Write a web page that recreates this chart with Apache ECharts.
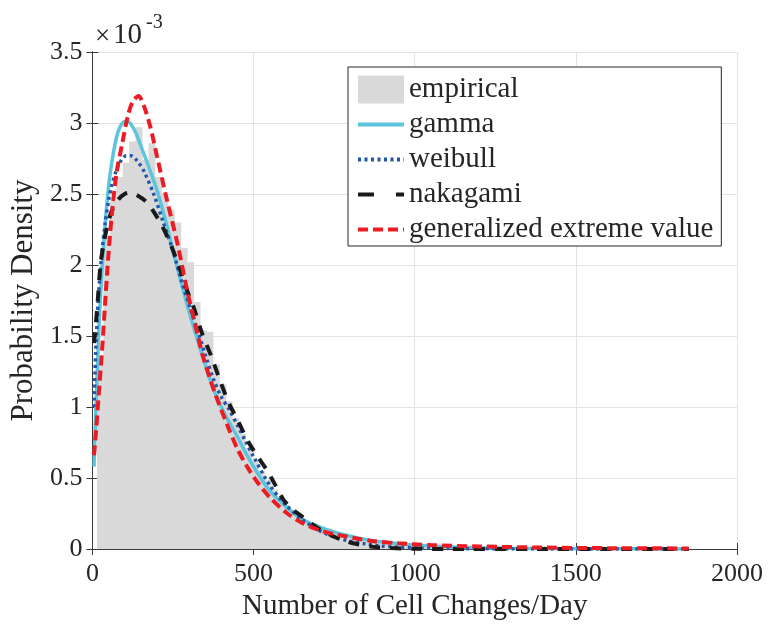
<!DOCTYPE html>
<html>
<head>
<meta charset="utf-8">
<script src="https://cdn.jsdelivr.net/npm/echarts@6/dist/echarts.min.js"></script>
<style>html,body{margin:0;padding:0;background:#fff}#c{width:769px;height:628px}</style>
</head>
<body>
<div id="c"></div>
<script>
// values in units of 1e-3
var binStart = 14;
var binWidth = 20;
var histHeights = [
  1.30, 2.20, 2.45, 2.62, 2.72, 2.87, 2.97, 2.74, 2.86, 2.62,
  2.50, 2.39, 2.30, 2.12, 2.02, 1.74, 1.54, 1.53, 1.30, 1.16,
  1.04, 0.92, 0.81, 0.71, 0.62, 0.55, 0.49, 0.42, 0.36, 0.31,
  0.27, 0.23, 0.20, 0.175, 0.15, 0.13, 0.115, 0.10, 0.088, 0.078,
  0.068, 0.060, 0.053, 0.047, 0.042, 0.037, 0.033, 0.030, 0.027, 0.024,
  0.022, 0.020, 0.018, 0.017, 0.016, 0.015, 0.014, 0.013, 0.012, 0.011,
  0.010, 0.010, 0.009, 0.009, 0.008, 0.008, 0.007, 0.007, 0.007, 0.006,
  0.006, 0.006, 0.005, 0.005, 0.005, 0.005, 0.004, 0.004, 0.004, 0.004,
  0.004, 0.003, 0.003, 0.003, 0.003, 0.003, 0.003, 0.002, 0.002, 0.002,
  0.002, 0.002
];
var gammaPts = [
  [5,0.58],[10,0.95],[15,1.25],[20,1.55],[30,1.98],[40,2.30],[50,2.55],[60,2.72],
  [70,2.85],[80,2.94],[90,2.99],[100,3.01],[110,3.01],[120,2.99],[135,2.93],[150,2.84],
  [175,2.69],[200,2.53],[225,2.33],[250,2.10],[275,1.88],[300,1.67],[325,1.48],[350,1.30],
  [375,1.13],[400,1.00],[425,0.89],[450,0.79],[475,0.68],[500,0.58],[525,0.49],[550,0.41],
  [600,0.30],[650,0.21],[700,0.16],[750,0.12],[800,0.09],[850,0.066],[900,0.05],[1000,0.028],
  [1100,0.016],[1200,0.009],[1300,0.005],[1500,0.002],[1700,0.001],[1850,0.0005]
];
var weibullPts = [
  [5,1.00],[10,1.38],[15,1.62],[20,1.82],[30,2.10],[40,2.30],[50,2.45],[60,2.56],
  [75,2.67],[90,2.74],[105,2.77],[120,2.77],[140,2.73],[160,2.66],[190,2.50],[220,2.30],
  [250,2.10],[275,1.90],[300,1.72],[325,1.55],[350,1.37],[375,1.20],[400,1.07],[425,0.98],
  [450,0.87],[475,0.76],[500,0.65],[550,0.45],[600,0.31],[650,0.21],[700,0.135],[750,0.085],
  [800,0.055],[850,0.035],[900,0.02],[1000,0.008],[1100,0.003],[1300,0.0005],[1850,0.0]
];
var nakagamiPts = [
  [5,1.45],[15,1.70],[25,2.00],[35,2.15],[46,2.27],[60,2.38],[80,2.46],[100,2.50],
  [118,2.51],[140,2.49],[165,2.45],[186,2.39],[215,2.28],[242,2.15],[270,1.98],[294,1.82],
  [313,1.71],[340,1.52],[370,1.35],[397,1.18],[425,1.02],[450,0.91],[480,0.77],[510,0.66],
  [543,0.55],[570,0.44],[592,0.35],[620,0.28],[650,0.23],[685,0.17],[720,0.12],[778,0.06],
  [820,0.035],[871,0.015],[920,0.007],[1000,0.002],[1100,0.0],[1850,0.0]
];
var gevPts = [
  [5,0.66],[12,0.85],[20,1.10],[30,1.40],[40,1.75],[50,2.08],[60,2.35],[75,2.65],
  [93,2.86],[110,3.05],[125,3.15],[143,3.19],[160,3.12],[180,2.97],[201,2.76],[230,2.47],
  [264,2.15],[294,1.82],[320,1.57],[344,1.35],[380,1.10],[419,0.87],[449,0.71],[480,0.58],
  [512,0.47],[552,0.36],[605,0.25],[654,0.18],[707,0.13],[760,0.10],[862,0.058],[950,0.04],
  [1050,0.028],[1200,0.018],[1400,0.01],[1600,0.006],[1850,0.004]
];
var xTicks = {min: 0, max: 2000, interval: 500};
var yTicks = {min: 0, max: 3.5, interval: 0.5};

var histData = histHeights.map(function (h, i) {
  return [binStart + i * binWidth, binStart + (i + 1) * binWidth, h];
});

var FONT = 'Liberation Serif';
var TXT = '#262626';
var AX = '#3a3a3a';

var chart = echarts.init(document.getElementById('c'), null, {renderer: 'canvas'});

function lineSeries(name, data, color, width, type, z) {
  return {
    name: name, type: 'line', data: data, symbol: 'none', showSymbol: false,
    smooth: 0.3, z: z,
    lineStyle: {color: color, width: width, type: type, cap: 'butt'},
    itemStyle: {color: color},
    emphasis: {disabled: true}, animation: false
  };
}
var hidden = {opacity: 0, borderWidth: 0};

chart.setOption({
  animation: false,
  grid: {left: 92, right: 32, top: 52, bottom: 79, containLabel: false},
  xAxis: [{
    type: 'value', min: xTicks.min, max: xTicks.max, interval: xTicks.interval,
    position: 'bottom',
    name: 'Number of Cell Changes/Day', nameLocation: 'middle', nameGap: 43,
    nameTextStyle: {fontFamily: FONT, fontSize: 29, color: TXT},
    axisLine: {show: true, lineStyle: {color: AX, width: 1}},
    axisTick: {show: true, inside: true, length: 6, lineStyle: {color: AX}},
    axisLabel: {fontFamily: FONT, fontSize: 26, color: TXT, margin: 12,
      formatter: function (v) { return String(v); }},
    splitLine: {show: true, lineStyle: {color: '#e3e3e3', width: 1}}
  }, {
    type: 'value', min: xTicks.min, max: xTicks.max, interval: xTicks.interval,
    position: 'top',
    axisLine: {show: true, lineStyle: {color: AX, width: 1}},
    axisTick: {show: true, inside: true, length: 6, lineStyle: {color: AX}},
    axisLabel: {show: false}, splitLine: {show: false}
  }],
  yAxis: [{
    type: 'value', min: yTicks.min, max: yTicks.max, interval: yTicks.interval,
    position: 'left',
    name: 'Probability Density', nameLocation: 'middle', nameGap: 40,
    nameTextStyle: {fontFamily: FONT, fontSize: 31, color: TXT},
    axisLine: {show: true, lineStyle: {color: AX, width: 1}},
    axisTick: {show: true, inside: true, length: 6, lineStyle: {color: AX}},
    axisLabel: {fontFamily: FONT, fontSize: 26, color: TXT, margin: 10},
    splitLine: {show: true, lineStyle: {color: '#e3e3e3', width: 1}}
  }, {
    type: 'value', min: yTicks.min, max: yTicks.max, interval: yTicks.interval,
    position: 'right',
    axisLine: {show: true, lineStyle: {color: AX, width: 1}},
    axisTick: {show: true, inside: true, length: 6, lineStyle: {color: AX}},
    axisLabel: {show: false}, splitLine: {show: false}
  }],
  legend: {
    left: 348, top: 67, orient: 'vertical',
    itemWidth: 46, itemHeight: 28, itemGap: 6,
    padding: [8, 8, 2, 8],
    borderColor: '#262626', borderWidth: 1, backgroundColor: '#fff',
    textStyle: {fontFamily: FONT, fontSize: 29, color: TXT},
    selectedMode: false,
    data: [
      {name: 'empirical', icon: 'rect', itemStyle: {color: '#d9d9d9'}},
      {name: 'gamma', itemStyle: hidden, lineStyle: {width: 4}},
      {name: 'weibull', itemStyle: hidden, lineStyle: {width: 4}},
      {name: 'nakagami', itemStyle: hidden, lineStyle: {width: 4, type: [16, 22]}},
      {name: 'generalized extreme value', itemStyle: hidden, lineStyle: {width: 4}}
    ]
  },
  graphic: [
    {type: 'text', left: 95, top: 23, style: {text: '×', fontFamily: FONT, fontSize: 27, fill: TXT}},
    {type: 'text', left: 113, top: 21, style: {text: '10', fontFamily: FONT, fontSize: 29, fill: TXT}},
    {type: 'text', left: 146, top: 13, style: {text: '-3', fontFamily: FONT, fontSize: 20, fill: TXT}}
  ],
  series: [
    {
      name: 'empirical', type: 'custom', z: 1,
      data: histData,
      encode: {x: [0, 1], y: 2},
      itemStyle: {color: '#d9d9d9'},
      renderItem: function (params, api) {
        var p0 = api.coord([api.value(0), api.value(2)]);
        var p1 = api.coord([api.value(1), 0]);
        return {
          type: 'rect',
          shape: {x: p0[0], y: p0[1], width: p1[0] - p0[0] + 0.5, height: p1[1] - p0[1]},
          style: {fill: '#d9d9d9'}
        };
      }
    },
    lineSeries('gamma', gammaPts, '#5cc4dc', 3.5, 'solid', 3),
    lineSeries('weibull', weibullPts, '#2356a8', 3.5, [3, 3.5], 4),
    lineSeries('nakagami', nakagamiPts, '#1a1a1a', 4, [11, 10], 5),
    lineSeries('generalized extreme value', gevPts, '#ed1c24', 4, [10, 5], 6)
  ]
});
</script>
</body>
</html>
